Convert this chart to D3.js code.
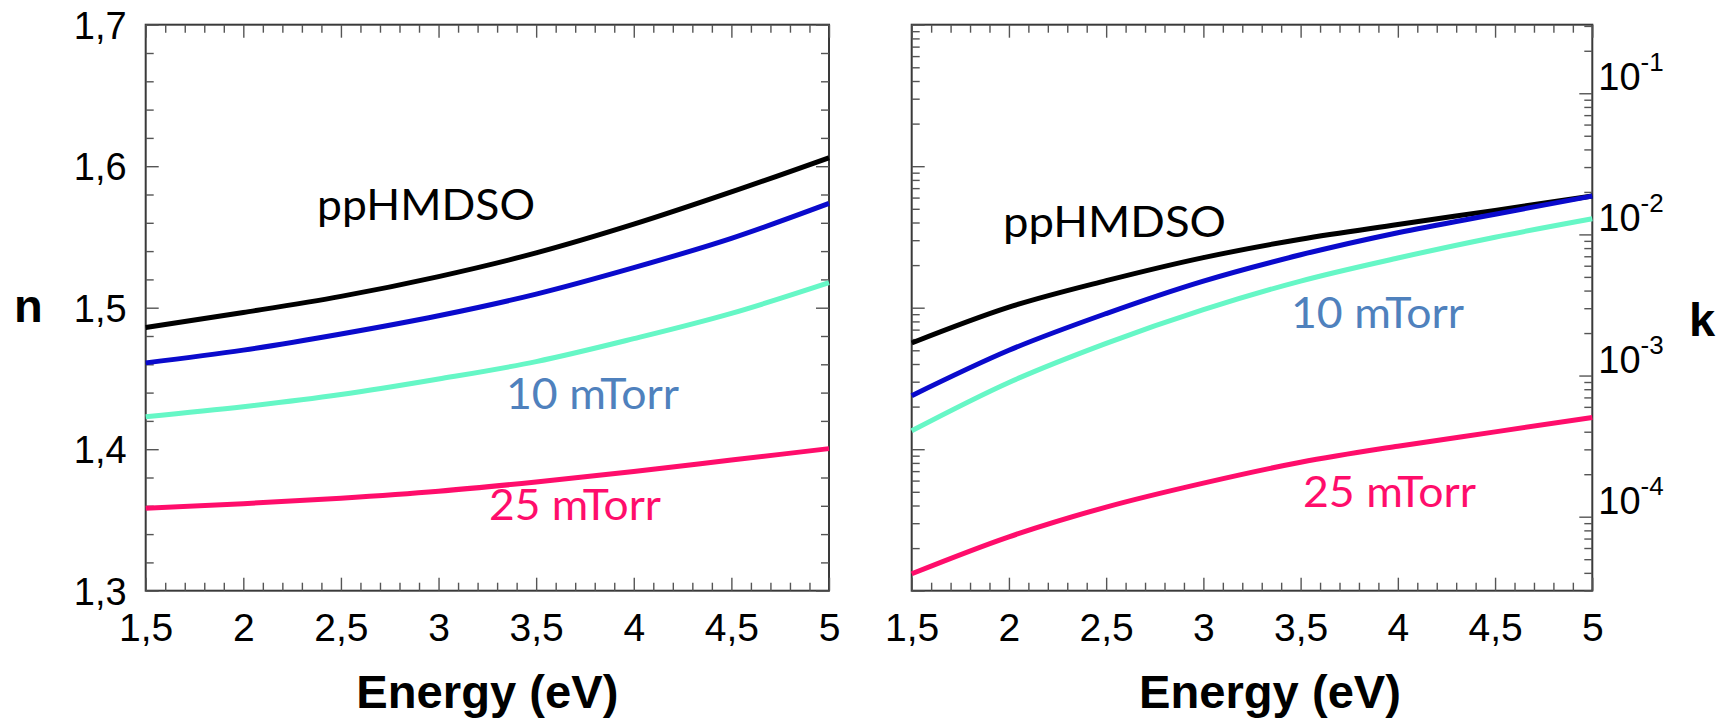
<!DOCTYPE html>
<html>
<head>
<meta charset="utf-8">
<script src="https://cdn.jsdelivr.net/npm/d3@7"></script>
<style>
  html, body { margin: 0; padding: 0; background: #fff; }
  svg { display: block; }
  .tick line { stroke: #555; stroke-width: 1.4; }
</style>
</head>
<body>
<svg id="chart" width="1724" height="719"></svg>
<script>
// Photon energy grid (eV)
const energy = [1.5, 2, 2.5, 3, 3.5, 4, 4.5, 5];

// Refractive index n for the four films
const nBlack = [1.486, 1.4966, 1.508, 1.522, 1.5387, 1.559, 1.5818, 1.606];
const nBlue  = [1.461, 1.470, 1.4814, 1.4943, 1.5096, 1.5283, 1.549, 1.5737];
const nCyan  = [1.423, 1.430, 1.4386, 1.4496, 1.4619, 1.4781, 1.496, 1.5177];
const nPink  = [1.3583, 1.3615, 1.3654, 1.3703, 1.3768, 1.3842, 1.3923, 1.4004];

// Extinction coefficient k for the same films
const kBlack = [1.70e-3, 3.05e-3, 4.70e-3, 6.85e-3, 9.25e-3, 1.175e-2, 1.48e-2, 1.87e-2];
const kBlue  = [7.2e-4, 1.51e-3, 2.75e-3, 4.67e-3, 7.17e-3, 1.028e-2, 1.39e-2, 1.87e-2];
const kCyan  = [4.06e-4, 8.93e-4, 1.69e-3, 2.93e-3, 4.67e-3, 6.8e-3, 9.55e-3, 1.29e-2];
const kPink  = [3.94e-5, 7.2e-5, 1.17e-4, 1.73e-4, 2.43e-4, 3.16e-4, 3.99e-4, 5.05e-4];

// Axis ticks
const xMajorTicks = [1.5, 2, 2.5, 3, 3.5, 4, 4.5, 5];
const nMajorTicks = [1.3, 1.4, 1.5, 1.6, 1.7];
const kDecadeExponents = [-1, -2, -3, -4];

// Text annotations
const sampleLabel = "ppHMDSO";
const pressureLabels = ["10 mTorr", "25 mTorr"];
const xTitle = "Energy (eV)";

const lineColors = ["#000000", "#0a0acc", "#66f7c6", "#ff0d6b"];

const svg = d3.select("#chart");
const comma = d3.formatLocale({decimal: ",", thousands: ".", grouping: [3], currency: ["", ""]});
const fmtX = comma.format("~f");
const fmtN = comma.format(".1f");
const AXIS_FONT = "'Liberation Sans', Arial, Helvetica, sans-serif";

const TOP = 24.7, BOTTOM = 590.7;

// ---------- scales ----------
const xN = d3.scaleLinear().domain([1.5, 5]).range([145.7, 829]);
const yN = d3.scaleLinear().domain([1.3, 1.7]).range([BOTTOM, TOP]);
const xK = d3.scaleLinear().domain([1.5, 5]).range([911.7, 1592.3]);
const yK = d3.scaleLog().domain([2.99e-5, 0.306]).range([BOTTOM, TOP]);
// unlabeled companion log axis on the left edge of the k panel
const yKLeft = d3.scaleLog().domain([1e-5, 1e-1]).range([BOTTOM, TOP]);

const minorX = d3.range(15, 51).map(d => d / 10).filter(v => !xMajorTicks.includes(v));
const minorN = d3.range(130, 171, 2).map(d => d / 100).filter(v => !nMajorTicks.some(m => Math.abs(m - v) < 1e-9));

function logMinor(scale) {
  const [lo, hi] = scale.domain();
  const out = [];
  for (let e = Math.floor(Math.log10(lo)); e <= Math.ceil(Math.log10(hi)); e++) {
    for (let m = 2; m <= 9; m++) {
      const v = m * Math.pow(10, e);
      if (v >= lo * 0.999 && v <= hi * 1.001) out.push(v);
    }
  }
  return out;
}
function logMajor(scale) {
  const [lo, hi] = scale.domain();
  const out = [];
  for (let e = Math.floor(Math.log10(lo)); e <= Math.ceil(Math.log10(hi)); e++) {
    const v = Math.pow(10, e);
    if (v >= lo * 0.999 && v <= hi * 1.001) out.push(v);
  }
  return out;
}

function tickGroup(g, axis) {
  g.call(axis);
  g.select(".domain").remove();
  return g;
}

function drawFrame(xs) {
  const [x0, x1] = xs.range();
  svg.append("rect")
    .attr("x", x0).attr("y", TOP)
    .attr("width", x1 - x0).attr("height", BOTTOM - TOP)
    .attr("fill", "none").attr("stroke", "#3a3a3a").attr("stroke-width", 2);
}

function drawXTicks(xs) {
  // bottom, inward
  tickGroup(svg.append("g").attr("transform", `translate(0,${BOTTOM})`),
    d3.axisBottom(xs).tickValues(minorX).tickSize(-8).tickFormat(""));
  const gb = tickGroup(svg.append("g").attr("transform", `translate(0,${BOTTOM})`),
    d3.axisBottom(xs).tickValues(xMajorTicks).tickSize(-13).tickFormat(fmtX).tickPadding(0));
  gb.selectAll("text")
    .attr("y", 50).attr("dy", null)
    .attr("font-family", AXIS_FONT)
    .attr("font-size", 39).attr("fill", "#000");
  // top, inward
  tickGroup(svg.append("g").attr("transform", `translate(0,${TOP})`),
    d3.axisTop(xs).tickValues(minorX).tickSize(-8).tickFormat(""));
  tickGroup(svg.append("g").attr("transform", `translate(0,${TOP})`),
    d3.axisTop(xs).tickValues(xMajorTicks).tickSize(-13).tickFormat(""));
}

function drawLines(xs, ys, seriesList) {
  const line = d3.line()
    .x((d, i) => xs(energy[i]))
    .y(d => ys(d))
    .curve(d3.curveMonotoneX);
  seriesList.forEach((vals, i) => {
    svg.append("path")
      .datum(vals)
      .attr("d", line)
      .attr("fill", "none")
      .attr("stroke", lineColors[i])
      .attr("stroke-width", 5)
      .attr("stroke-linecap", "butt");
  });
}

function label(x, y, text, opts) {
  const t = svg.append("text")
    .attr("x", x).attr("y", y)
    .text(text)
    .attr("font-family", opts.family || "Lato, 'Open Sans', sans-serif")
    .attr("font-size", opts.size)
    .attr("font-weight", opts.weight || 400)
    .attr("fill", opts.fill || "#000");
  if (opts.anchor) t.attr("text-anchor", opts.anchor);
  if (opts.length) t.attr("textLength", opts.length).attr("lengthAdjust", "spacingAndGlyphs");
  return t;
}

// ================= n panel =================
drawFrame(xN);
drawXTicks(xN);
// left edge
tickGroup(svg.append("g").attr("transform", `translate(${xN.range()[0]},0)`),
  d3.axisLeft(yN).tickValues(minorN).tickSize(-8).tickFormat(""));
const gnl = tickGroup(svg.append("g").attr("transform", `translate(${xN.range()[0]},0)`),
  d3.axisLeft(yN).tickValues(nMajorTicks).tickSize(-13).tickFormat(fmtN));
gnl.selectAll("text")
  .attr("x", -19).attr("dy", "0.36em")
  .attr("font-family", AXIS_FONT)
  .attr("font-size", 38).attr("fill", "#000");
// right edge
tickGroup(svg.append("g").attr("transform", `translate(${xN.range()[1]},0)`),
  d3.axisRight(yN).tickValues(minorN).tickSize(-8).tickFormat(""));
tickGroup(svg.append("g").attr("transform", `translate(${xN.range()[1]},0)`),
  d3.axisRight(yN).tickValues(nMajorTicks).tickSize(-13).tickFormat(""));

drawLines(xN, yN, [nBlack, nBlue, nCyan, nPink]);

label(14, 322, "n", {family: AXIS_FONT, size: 47, weight: 700});
label(xN(1.5) + (xN(5) - xN(1.5)) / 2, 708, xTitle,
  {family: AXIS_FONT, size: 47, weight: 700, anchor: "middle", length: 262});
label(317, 220, sampleLabel, {size: 42, length: 218});
label(506, 409, pressureLabels[0], {size: 43, fill: "#4f81bd", length: 173});
label(489, 520, pressureLabels[1], {size: 43, fill: "#ff0d6b", length: 172});

// ================= k panel =================
drawFrame(xK);
drawXTicks(xK);
// left edge: unlabeled log ticks
tickGroup(svg.append("g").attr("transform", `translate(${xK.range()[0]},0)`),
  d3.axisLeft(yKLeft).tickValues(logMinor(yKLeft)).tickSize(-8).tickFormat(""));
tickGroup(svg.append("g").attr("transform", `translate(${xK.range()[0]},0)`),
  d3.axisLeft(yKLeft).tickValues(logMajor(yKLeft)).tickSize(-13).tickFormat(""));
// right edge: labeled decades
tickGroup(svg.append("g").attr("transform", `translate(${xK.range()[1]},0)`),
  d3.axisRight(yK).tickValues(logMinor(yK)).tickSize(-8).tickFormat(""));
const gkr = tickGroup(svg.append("g").attr("transform", `translate(${xK.range()[1]},0)`),
  d3.axisRight(yK).tickValues(kDecadeExponents.map(e => Math.pow(10, e))).tickSize(-13).tickFormat(""));
gkr.selectAll(".tick text").remove();
gkr.selectAll(".tick").each(function (d) {
  const exp = Math.round(Math.log10(d));
  const t = d3.select(this).append("text")
    .attr("x", 6).attr("y", -3.5)
    .attr("text-anchor", "start")
    .attr("font-family", AXIS_FONT)
    .attr("fill", "#000");
  t.append("tspan").attr("font-size", 38).text("10");
  t.append("tspan").attr("font-size", 26).attr("dy", -19).text(String(exp));
});

drawLines(xK, yK, [kBlack, kBlue, kCyan, kPink]);

label(1689, 336, "k", {family: AXIS_FONT, size: 47, weight: 700});
label(1270, 708, xTitle,
  {family: AXIS_FONT, size: 47, weight: 700, anchor: "middle", length: 262});
label(1003, 237, sampleLabel, {size: 42, length: 223});
label(1291, 328, pressureLabels[0], {size: 43, fill: "#4f81bd", length: 173});
label(1303, 507, pressureLabels[1], {size: 43, fill: "#ff0d6b", length: 173});
</script>
</body>
</html>
